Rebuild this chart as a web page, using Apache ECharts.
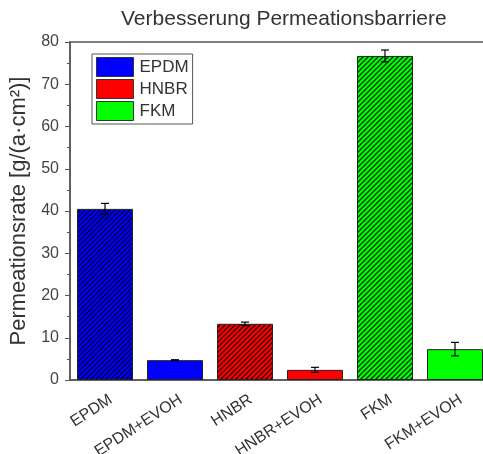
<!DOCTYPE html>
<html>
<head>
<meta charset="utf-8">
<script src="https://cdn.jsdelivr.net/npm/echarts@6/dist/echarts.min.js"></script>
<style>
  html, body { margin: 0; padding: 0; background: #fff; }
  #chart { width: 483px; height: 454px; }
</style>
</head>
<body>
<div id="chart"></div>
<script>
// Daten
var categories = ["EPDM", "EPDM+EVOH", "HNBR", "HNBR+EVOH", "FKM", "FKM+EVOH"];
var materials = ["EPDM", "HNBR", "FKM"];
var values = [40.5, 4.7, 13.3, 2.4, 76.7, 7.3];
var errors = [1.3, 0.1, 0.4, 0.6, 1.4, 1.6];
var yTicks = [0, 10, 20, 30, 40, 50, 60, 70, 80];

var baseColors = ["#0000ff", "#ff0000", "#00ff00"];

// schraffiertes Muster fuer die Balken ohne EVOH
function hatch(color) {
  var s = 5;
  var c = document.createElement("canvas");
  c.width = s; c.height = s;
  var ctx = c.getContext("2d");
  ctx.fillStyle = color;
  ctx.fillRect(0, 0, s, s);
  ctx.strokeStyle = "rgba(0,0,0,0.8)";
  ctx.lineWidth = 1.3;
  ctx.beginPath();
  ctx.moveTo(0, s); ctx.lineTo(s, 0);
  ctx.moveTo(-1, 1); ctx.lineTo(1, -1);
  ctx.moveTo(s - 1, s + 1); ctx.lineTo(s + 1, s - 1);
  ctx.stroke();
  return { image: c, repeat: "repeat" };
}

var chart = echarts.init(document.getElementById("chart"));

var barSeries = materials.map(function (m, i) {
  var data = categories.map(function (c, j) {
    if (Math.floor(j / 2) !== i) return "-";
    var item = { value: values[j] };
    if (j % 2 === 0) {
      item.itemStyle = { color: hatch(baseColors[i]) };
    } else {
      item.itemStyle = { color: baseColors[i] };
    }
    return item;
  });
  return {
    name: m,
    type: "bar",
    data: data,
    barWidth: 56,
    barGap: "-100%",
    itemStyle: { color: baseColors[i], borderColor: "#222", borderWidth: 1 }
  };
});

var errSeries = {
  type: "custom",
  name: "err",
  z: 10,
  data: values.map(function (v, i) { return [i, v - errors[i], v + errors[i]]; }),
  renderItem: function (params, api) {
    var lo = api.coord([api.value(0), api.value(1)]);
    var hi = api.coord([api.value(0), api.value(2)]);
    var hw = 4;
    var st = { stroke: "#000", lineWidth: 1.2 };
    return {
      type: "group",
      children: [
        { type: "line", shape: { x1: hi[0], y1: hi[1], x2: lo[0], y2: lo[1] }, style: st },
        { type: "line", shape: { x1: hi[0] - hw, y1: hi[1], x2: hi[0] + hw, y2: hi[1] }, style: st },
        { type: "line", shape: { x1: lo[0] - hw, y1: lo[1], x2: lo[0] + hw, y2: lo[1] }, style: st }
      ]
    };
  }
};

var option = {
  animation: false,
  textStyle: { fontFamily: "Liberation Sans, Arial, sans-serif" },
  title: {
    text: "Verbesserung Permeationsbarriere",
    left: 116,
    top: 4,
    textStyle: { fontSize: 21, fontWeight: "normal", color: "#333" }
  },
  legend: {
    orient: "vertical",
    left: 92,
    top: 54,
    itemWidth: 37,
    itemHeight: 19,
    itemGap: 2,
    padding: [3, 4, 3, 4],
    borderColor: "#555",
    borderWidth: 1,
    backgroundColor: "#fff",
    textStyle: { fontSize: 17, lineHeight: 19, color: "#333", padding: [0, 0, 0, 1] },
    data: materials.map(function (m, i) {
      return { name: m, icon: "rect", itemStyle: { color: baseColors[i], borderColor: "#333", borderWidth: 1 } };
    })
  },
  grid: {
    left: 70,
    top: 42,
    width: 420,
    bottom: 74,
    containLabel: false,
    outerBoundsMode: "none",
    show: true,
    borderColor: "#555",
    borderWidth: 1.5
  },
  xAxis: {
    type: "category",
    data: categories,
    axisLine: { lineStyle: { color: "#555", width: 1.5 } },
    axisTick: { alignWithLabel: true, length: 6, lineStyle: { color: "#555" } },
    axisLabel: {
      rotate: 33, fontSize: 16, color: "#333", margin: 22, interval: 0,
      padding: [0, -7, 0, 0]
    }
  },
  yAxis: {
    type: "value",
    min: 0,
    max: 80,
    interval: 10,
    name: "Permeationsrate [g/(a·cm²)]",
    nameLocation: "middle",
    nameGap: 37,
    nameTextStyle: { fontSize: 22, color: "#333" },
    axisLine: { show: true, lineStyle: { color: "#555", width: 1.5 } },
    axisTick: { show: true, length: 5, lineStyle: { color: "#555" } },
    minorTick: { show: true, splitNumber: 2, length: 3, lineStyle: { color: "#555" } },
    splitLine: { show: false },
    axisLabel: {
      fontSize: 16, color: "#444", margin: 11,
      formatter: function (v) { return yTicks.indexOf(v) >= 0 ? String(v) : ""; }
    }
  },
  series: barSeries.concat([errSeries])
};

chart.setOption(option);
</script>
</body>
</html>
